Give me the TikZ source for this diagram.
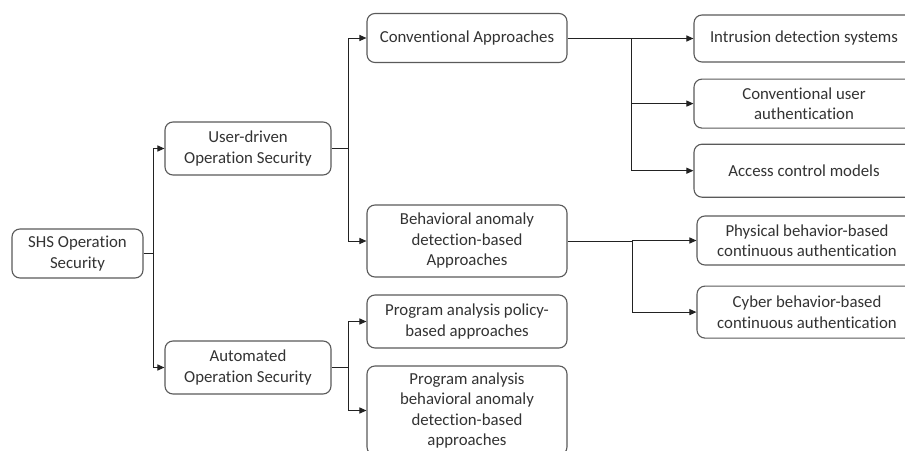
\documentclass[tikz,border=0pt]{standalone}
\usepackage{fontspec}
\setmainfont{Carlito}[Ligatures=NoCommon]
\usetikzlibrary{arrows.meta, positioning}
\definecolor{boxline}{HTML}{5a5a5a}
\definecolor{textgray}{HTML}{333333}
\definecolor{wiregray}{HTML}{222222}

\begin{document}
\begin{tikzpicture}[x=1pt, y=-1pt, font=\fontsize{16.8}{20.5}\selectfont, text=textgray,
    box/.style={draw=boxline, line width=1.1pt, rounded corners=8pt, fill=white, align=center, inner sep=2pt},
    wire/.style={draw=wiregray, line width=1pt},
    link/.style={wire, -{Triangle[length=7pt, width=6pt]}}]
    \useasboundingbox (0,0) rectangle (905,450);
    \fill[white] (0,0) rectangle (905,450);
    \clip (0,0) rectangle (905,450);

    \node[box, minimum width=131pt, minimum height=49pt] (shs) at (77.5,253.5) {SHS Operation\\Security};
    \node[box, minimum width=166pt, minimum height=53pt] (user) at (248,148.5) {User-driven\\Operation Security};
    \node[box, minimum width=166pt, minimum height=53pt] (auto) at (248,367.5) {Automated\\Operation Security};

    \node[box, minimum width=200pt, minimum height=49pt] (conv) at (467,38) {Conventional Approaches};
    \node[box, minimum width=200pt, minimum height=72pt] (behav) at (467,241) {Behavioral anomaly\\detection-based\\Approaches};
    \node[box, minimum width=200pt, minimum height=53pt] (pol) at (467,321.5) {Program analysis policy-\\based approaches};
    \node[box, minimum width=200pt, minimum height=89pt] (pbeh) at (467,410.5) {Program analysis\\behavioral anomaly\\detection-based\\approaches};

    \node[box, minimum width=220pt, minimum height=47pt] (ids) at (804,38.5) {Intrusion detection systems};
    \node[box, minimum width=220pt, minimum height=49pt, below=16pt of ids] (cua) {Conventional user\\authentication};
    \node[box, minimum width=220pt, minimum height=53pt, below=15pt of cua] (acm) {Access control models};
    \node[box, minimum width=220pt, minimum height=49pt] (phys) at (807,240.5) {Physical behavior-based\\continuous authentication};
    \node[box, minimum width=220pt, minimum height=52pt, below=20pt of phys] (cyber) {Cyber behavior-based\\continuous authentication};

    % junctions
    \coordinate (j1) at (153.5,253.5);
    \coordinate (j2) at (348,148.5);
    \coordinate (j3) at (631,38);
    \coordinate (j4) at (632,241);
    \coordinate (j5) at (348,367.5);

    \foreach \a/\j in {shs/j1, user/j2, conv/j3, behav/j4, auto/j5}
    \draw[wire] (\a) -- (\j);
    \foreach \j/\b in {j1/user, j1/auto, j2/conv, j2/behav, j3/ids, j3/cua, j3/acm, j4/phys, j4/cyber, j5/pol, j5/pbeh}
    \draw[link] (\j) |- (\b.west);
\end{tikzpicture}
\end{document}
